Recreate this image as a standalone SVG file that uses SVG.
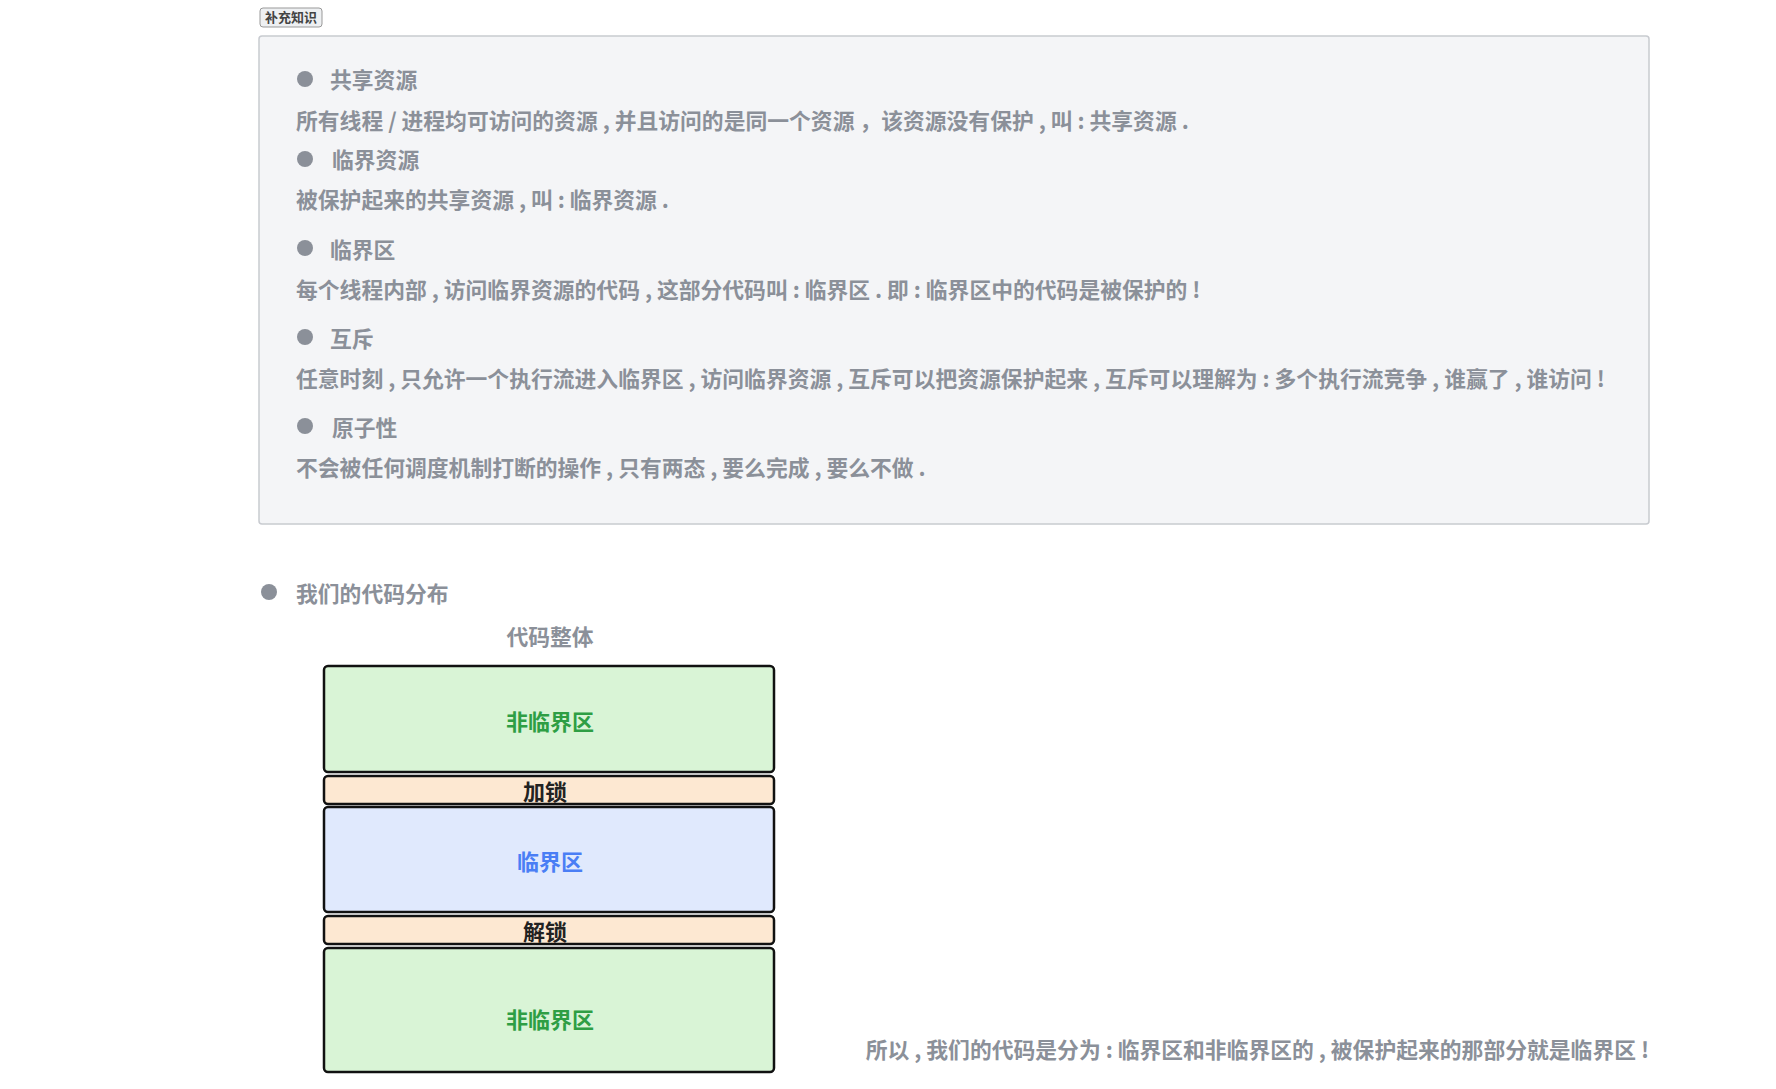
<svg xmlns="http://www.w3.org/2000/svg" width="1776" height="1089" viewBox="0 0 1776 1089">
<style>
text{font-family:"Noto Sans CJK SC","Noto Sans",sans-serif;font-weight:bold}
.g{fill:#8b9099;font-size:21.8px}
.dot{fill:#8b9099}
.blk{stroke:#111;stroke-width:2.5}
.lbl{font-size:22px;text-anchor:middle;dominant-baseline:central}
</style>
<rect width="1776" height="1089" fill="#fff"/>
<g id="tag"><rect x="260" y="8" width="62" height="19" rx="3" fill="#eef0f2" stroke="#999"/><text x="291" y="22" font-size="13" fill="#444" text-anchor="middle">补充知识</text></g>
<g id="panel">
<rect x="259" y="36" width="1390" height="488" rx="3" fill="#f4f5f7" stroke="#c8cbd0" stroke-width="1.5"/>
<circle class="dot" cx="305" cy="79" r="8"/><text class="g" x="330" y="88">共享资源</text>
<text class="g" x="296" y="129">所有线程 / 进程均可访问的资源 , 并且访问的是同一个资源 ，该资源没有保护 , 叫 : 共享资源 .</text>
<circle class="dot" cx="305" cy="159" r="8"/><text class="g" x="332" y="168">临界资源</text>
<text class="g" x="296" y="208">被保护起来的共享资源 , 叫 : 临界资源 .</text>
<circle class="dot" cx="305" cy="248" r="8"/><text class="g" x="330" y="258">临界区</text>
<text class="g" x="296" y="298">每个线程内部 , 访问临界资源的代码 , 这部分代码叫 : 临界区 . 即 : 临界区中的代码是被保护的 !</text>
<circle class="dot" cx="305" cy="337" r="8"/><text class="g" x="330" y="347">互斥</text>
<text class="g" x="296" y="387">任意时刻 , 只允许一个执行流进入临界区 , 访问临界资源 , 互斥可以把资源保护起来 , 互斥可以理解为 : 多个执行流竞争 , 谁赢了 , 谁访问 !</text>
<circle class="dot" cx="305" cy="426" r="8"/><text class="g" x="332" y="436">原子性</text>
<text class="g" x="296" y="476">不会被任何调度机制打断的操作 , 只有两态 , 要么完成 , 要么不做 .</text>
</g>
<g id="dist"><circle class="dot" cx="269" cy="592" r="8"/><text class="g" x="296" y="602">我们的代码分布</text></g>
<g id="title"><text class="g" x="550" y="645" text-anchor="middle">代码整体</text></g>
<g id="n1"><rect class="blk" x="324" y="666" width="450" height="106" rx="4" fill="#d9f4d6"/><text class="lbl" x="550" y="720" fill="#2e9e44">非临界区</text></g>
<g id="n2"><rect class="blk" x="324" y="776" width="450" height="28" rx="4" fill="#fde8d2"/><text class="lbl" x="545" y="790" fill="#222">加锁</text></g>
<g id="n3"><rect class="blk" x="324" y="807" width="450" height="105" rx="4" fill="#e0e9fd"/><text class="lbl" x="550" y="860" fill="#4a7ef5">临界区</text></g>
<g id="n4"><rect class="blk" x="324" y="916" width="450" height="28" rx="4" fill="#fde8d2"/><text class="lbl" x="545" y="930" fill="#222">解锁</text></g>
<g id="n5"><rect class="blk" x="324" y="948" width="450" height="124" rx="4" fill="#d9f4d6"/><text class="lbl" x="550" y="1018" fill="#2e9e44">非临界区</text></g>
<g id="connectors"></g>
<g id="note"><text class="g" x="1649" y="1058" text-anchor="end">所以 , 我们的代码是分为 : 临界区和非临界区的 , 被保护起来的那部分就是临界区 !</text></g>
</svg>
